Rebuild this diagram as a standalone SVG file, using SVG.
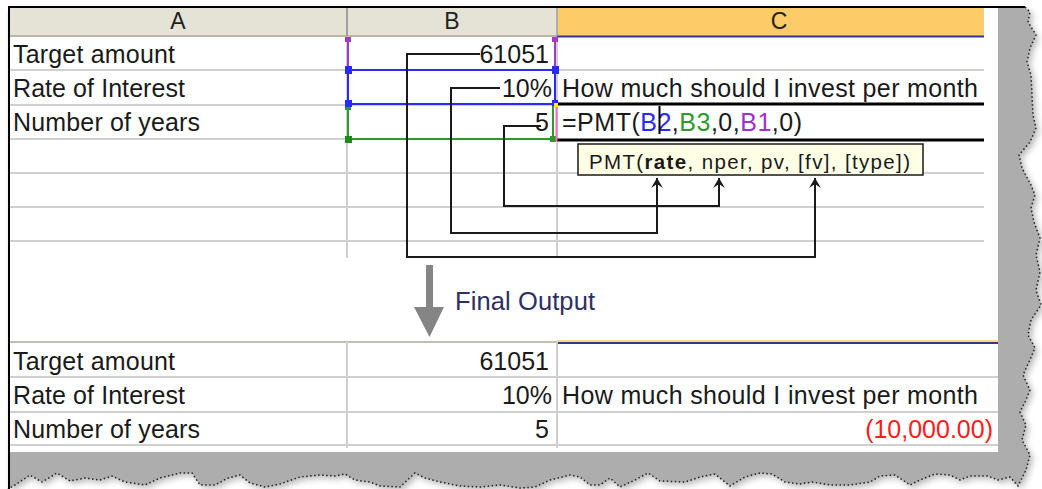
<svg xmlns="http://www.w3.org/2000/svg" width="1042" height="489" viewBox="0 0 1042 489">
<style>
text{font-family:"Liberation Sans",Arial,sans-serif;fill:#1a1a1a}
.cell{font-size:25px}
.hdr{font-size:23px;fill:#222;text-anchor:middle}
.grid{stroke:#d0d0d0;stroke-width:2;fill:none}
.conn{stroke:#1a1a1a;stroke-width:2;fill:none}
.num{text-anchor:end}
</style>
<defs>
<marker id="arr" viewBox="-7 0 14 12" refX="0" refY="0" markerWidth="14" markerHeight="12" markerUnits="userSpaceOnUse" orient="0" overflow="visible">
<path d="M0,0 L-6,10 L0,6 L6,10 Z" fill="#1a1a1a"/>
</marker>
<filter id="blur" x="-5%" y="-5%" width="110%" height="110%"><feGaussianBlur stdDeviation="3"/></filter>
</defs>
<rect width="1042" height="489" fill="#fff"/>
<g id="frame">
<polygon points="8,7 1025,7 1030,12 1028,22 1036,35 1030,48 1027,62 1031,75 1032,95 1033,115 1036,128 1030,142 1019,155 1022,168 1031,185 1035,195 1031,208 1034,222 1040,238 1036,255 1040,272 1036,290 1041,305 1031,320 1028,335 1035,348 1029,362 1023,375 1030,390 1025,402 1020,412 1026,425 1022,440 1030,455 1026,470 1021,480 1018,486 1010,477 998,480 988,476 970,476 960,480 950,475 935,474 920,480 910,485 895,475 880,476 870,482 850,485 830,485 812,482 800,484 785,482 772,474 760,473 745,477 730,486 715,474 700,477 685,482 660,481 648,473 635,480 620,487 610,478 600,485 590,485 580,477 570,475 550,480 535,487 520,488 500,485 480,487 460,486 440,482 425,478 415,473 400,487 380,486 370,482 355,480 345,474 335,476 320,475 300,477 280,484 265,487 250,483 240,475 228,478 215,485 200,485 192,473 180,473 160,478 145,485 125,482 112,476 100,480 85,478 70,481 57,473 42,482 30,475 15,485 8,489" fill="#8a8a8a" opacity="0.6" filter="url(#blur)" transform="translate(3,3)"/>
<polygon points="8,7 1025,7 1030,12 1028,22 1036,35 1030,48 1027,62 1031,75 1032,95 1033,115 1036,128 1030,142 1019,155 1022,168 1031,185 1035,195 1031,208 1034,222 1040,238 1036,255 1040,272 1036,290 1041,305 1031,320 1028,335 1035,348 1029,362 1023,375 1030,390 1025,402 1020,412 1026,425 1022,440 1030,455 1026,470 1021,480 1018,486 1010,477 998,480 988,476 970,476 960,480 950,475 935,474 920,480 910,485 895,475 880,476 870,482 850,485 830,485 812,482 800,484 785,482 772,474 760,473 745,477 730,486 715,474 700,477 685,482 660,481 648,473 635,480 620,487 610,478 600,485 590,485 580,477 570,475 550,480 535,487 520,488 500,485 480,487 460,486 440,482 425,478 415,473 400,487 380,486 370,482 355,480 345,474 335,476 320,475 300,477 280,484 265,487 250,483 240,475 228,478 215,485 200,485 192,473 180,473 160,478 145,485 125,482 112,476 100,480 85,478 70,481 57,473 42,482 30,475 15,485 8,489" fill="#adadad"/>
<polyline points="1025,7 1030,12 1028,22 1036,35 1030,48 1027,62 1031,75 1032,95 1033,115 1036,128 1030,142 1019,155 1022,168 1031,185 1035,195 1031,208 1034,222 1040,238 1036,255 1040,272 1036,290 1041,305 1031,320 1028,335 1035,348 1029,362 1023,375 1030,390 1025,402 1020,412 1026,425 1022,440 1030,455 1026,470 1021,480 1018,486 1010,477 998,480 988,476 970,476 960,480 950,475 935,474 920,480 910,485 895,475 880,476 870,482 850,485 830,485 812,482 800,484 785,482 772,474 760,473 745,477 730,486 715,474 700,477 685,482 660,481 648,473 635,480 620,487 610,478 600,485 590,485 580,477 570,475 550,480 535,487 520,488 500,485 480,487 460,486 440,482 425,478 415,473 400,487 380,486 370,482 355,480 345,474 335,476 320,475 300,477 280,484 265,487 250,483 240,475 228,478 215,485 200,485 192,473 180,473 160,478 145,485 125,482 112,476 100,480 85,478 70,481 57,473 42,482 30,475 15,485 8,489" fill="none" stroke="#222" stroke-width="1.5" stroke-dasharray="1.5 2.5"/>
<rect x="9" y="8" width="989" height="444" fill="#fff"/>
<line x1="8" y1="7" x2="1025" y2="7" stroke="#000" stroke-width="2"/>
<line x1="9" y1="7" x2="9" y2="489" stroke="#000" stroke-width="2"/>
</g>
<g id="header">
<rect x="10" y="8" width="337" height="28" fill="#e4e3d6"/>
<rect x="347" y="8" width="210" height="28" fill="#e4e3d6"/>
<rect x="557" y="8" width="427" height="28" fill="#fecb69"/>
<line x1="10" y1="36" x2="557" y2="36" stroke="#b9b6a5" stroke-width="2"/>
<line x1="557" y1="36.5" x2="984" y2="36.5" stroke="#333399" stroke-width="2"/>
<line x1="347" y1="8" x2="347" y2="36" stroke="#9e9e9e" stroke-width="2"/>
<line x1="557" y1="8" x2="557" y2="36" stroke="#9e9e9e" stroke-width="1.5"/>
<text class="hdr" x="178" y="29">A</text>
<text class="hdr" x="452" y="29">B</text>
<text class="hdr" x="779" y="29">C</text>
</g>
<g id="grid-top">
<path class="grid" d="M10 70H984 M10 105H557 M10 139H557 M10 173H984 M10 207H984 M10 241H984 M347 37V258 M557 37V258"/>
<line x1="557" y1="104" x2="984" y2="104" stroke="#000" stroke-width="3"/>
<line x1="557" y1="140" x2="984" y2="140" stroke="#000" stroke-width="3"/>
</g>
<g id="ranges">
<path d="M348 40V70 M555 40V70" stroke="#a03cc8" stroke-width="2" fill="none"/>
<rect x="348" y="70" width="207" height="34" fill="none" stroke="#2a2aff" stroke-width="2"/>
<path d="M348 106V139H553V106" stroke="#2e9a2e" stroke-width="2" fill="none"/>
<rect x="345" y="37" width="6" height="5" fill="#a03cc8"/>
<rect x="552" y="37" width="6" height="5" fill="#a03cc8"/>
<rect x="345" y="66" width="7" height="8" fill="#2a2aff"/>
<rect x="552" y="66" width="7" height="8" fill="#2a2aff"/>
<rect x="345" y="100" width="7" height="7" fill="#2a2aff"/>
<rect x="552" y="100" width="6" height="6" fill="#2a2aff"/>
<rect x="345" y="107" width="6" height="3" fill="#2e9a2e"/>
<rect x="345" y="136" width="7" height="7" fill="#1e8a1e"/>
<rect x="550" y="136" width="6" height="6" fill="#2e9a2e"/>
<rect x="554" y="103" width="4" height="4" fill="#ffee00"/>
<line x1="556.5" y1="107" x2="556.5" y2="141" stroke="#ff66cc" stroke-width="2"/>
</g>
<g id="row1">
<text class="cell" x="13" y="63" textLength="162">Target amount</text>
<text class="cell num" x="549" y="63">61051</text>
</g>
<g id="row2">
<text class="cell" x="13" y="97" textLength="172">Rate of Interest</text>
<text class="cell num" x="552" y="97">10%</text>
<text class="cell" x="562" y="97" textLength="416">How much should I invest per month</text>
</g>
<g id="row3">
<text class="cell" x="13" y="131" textLength="187">Number of years</text>
<text class="cell num" x="549" y="131">5</text>
<text class="cell" x="562" y="131" textLength="240">=PMT(<tspan fill="#2a2aff">B2</tspan>,<tspan fill="#2e9a2e">B3</tspan>,0,<tspan fill="#a030d0">B1</tspan>,0)</text>
<line x1="659.5" y1="106" x2="659.5" y2="134" stroke="#000" stroke-width="2"/>
</g>
<g id="tooltip">
<rect x="578" y="144" width="345" height="31" fill="#ffffe6" stroke="#1a1a1a" stroke-width="1.5"/>
<text x="589" y="169" font-size="20.5" textLength="321">PMT(<tspan font-weight="bold">rate</tspan>, nper, pv, [fv], [type])</text>
</g>
<g id="connectors">
<path class="conn" d="M480 54H407V257H815V178" marker-end="url(#arr)"/>
<path class="conn" d="M500 88H451V233H657V178" marker-end="url(#arr)"/>
<path class="conn" d="M541 126H504V206H719V178" marker-end="url(#arr)"/>
</g>
<g id="final-output">
<rect x="426" y="265" width="7" height="46" fill="#858585"/>
<path d="M414 307 L444 307 L429.5 337 Z" fill="#858585"/>
<text x="455" y="310" font-size="25.5" style="fill:#2e2e66" textLength="140">Final Output</text>
</g>
<g id="grid-bottom">
<line x1="10" y1="342" x2="557" y2="342" stroke="#c2bfae" stroke-width="2"/>
<line x1="557" y1="341" x2="998" y2="341" stroke="#fecb69" stroke-width="1.5"/>
<line x1="557" y1="343" x2="998" y2="343" stroke="#333399" stroke-width="2"/>
<path class="grid" d="M10 377H998 M10 412H998 M10 445H998 M347 342V448 M557 342V448"/>
</g>
<g id="out-row1">
<text class="cell" x="13" y="370" textLength="162">Target amount</text>
<text class="cell num" x="549" y="370">61051</text>
</g>
<g id="out-row2">
<text class="cell" x="13" y="404" textLength="172">Rate of Interest</text>
<text class="cell num" x="552" y="404">10%</text>
<text class="cell" x="562" y="404" textLength="416">How much should I invest per month</text>
</g>
<g id="out-row3">
<text class="cell" x="13" y="438" textLength="187">Number of years</text>
<text class="cell num" x="549" y="438">5</text>
<text class="cell num" x="993" y="438" style="fill:#ff1a1a">(10,000.00)</text>
</g>
</svg>
